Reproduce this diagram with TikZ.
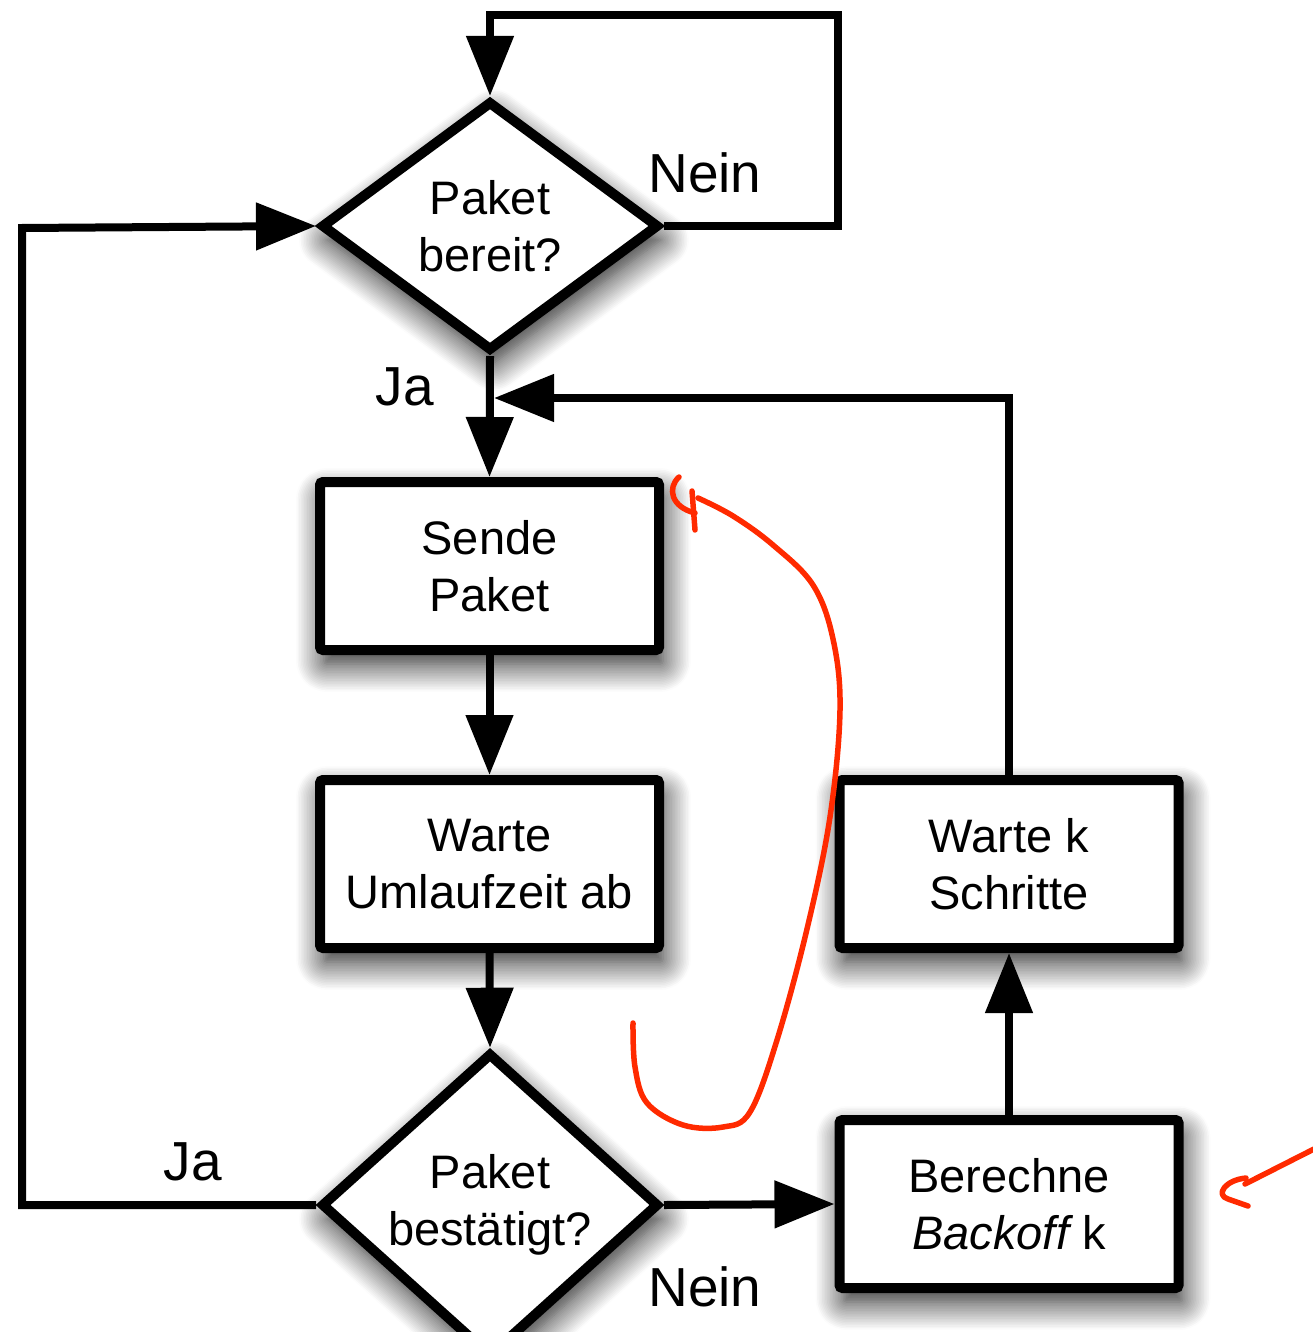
\documentclass[tikz,border=0pt]{standalone}
\usepackage{fontspec}
\setmainfont{Liberation Sans}
\usetikzlibrary{shapes.geometric,arrows.meta,shadows.blur}
\definecolor{pen}{RGB}{255,42,0}
\begin{document}
\begin{tikzpicture}[x=1pt,y=-1pt,
  every node/.style={font=\fontsize{47}{57}\selectfont},
  shade/.style={blur shadow={shadow xshift=4pt, shadow yshift=-14pt,
      shadow blur radius=28pt, shadow opacity=90, shadow blur steps=18}},
  stepbox/.style={draw, line width=10pt, fill=white, minimum width=339pt,
      minimum height=168pt, rounded corners=3pt, align=center, inner sep=0pt, shade},
  test/.style={diamond, draw, line width=10pt, fill=white, minimum width=338pt,
      minimum height=250pt, inner sep=0pt, align=center, shade},
  flow/.style={line width=8pt, -{Triangle[length=60pt,width=46pt]}},
  tag/.style={font=\fontsize{55}{66}\selectfont, anchor=base},
  ink/.style={draw=pen, line width=5.5pt, line cap=round, line join=round}
]
\useasboundingbox (0,0) rectangle (1312,1332);

% process steps and decisions
\node[test]    (ready) at (490,226)    {Paket\\bereit?};
\node[stepbox] (send)  at (489.5,566)  {Sende\\Paket};
\node[stepbox] (rtt)   at (489.5,864)  {Warte\\Umlaufzeit ab};
\node[test]    (ack)   at (490,1205)   {Paket\\bestätigt?};
\node[stepbox] (wait)  at (1009,864)   {Warte k\\Schritte};
\node[stepbox] (calc)  at (1009,1204)  {Berechne\\{\itshape Backoff} k};

% corner points of the loops
\coordinate (idle)  at (838,15);
\coordinate (back)  at (22,228);
\coordinate (merge) at (494,398);

% connectors
\draw[flow] (ready.east) -| (idle) -| (ready.north);
\draw[flow] (ack.west) -| (back) -- (ready.west);
\draw[flow] (ready.south) -- (send.north);
\draw[flow] (send.south) -- (rtt.north);
\draw[flow] (rtt.south) -- (ack.north);
\draw[flow] (ack.east) -- (calc.west);
\draw[flow] (calc.north) -- (wait.south);
\draw[flow] (wait.north) |- (merge);

% branch labels
\node[tag] (nein1) at (705,193)  {Nein};
\node[tag] (ja1)   at (405,405)  {Ja};
\node[tag] (ja2)   at (193,1180) {Ja};
\node[tag] (nein2) at (705,1306) {Nein};

% handwritten red marks
\draw[ink] plot[smooth, tension=0.6] coordinates {(633,1023) (635,1067) (647,1103)
  (683,1125) (723,1127) (750,1112) (777,1040) (807,929) (830,817) (840,710)
  (833,639) (813,585) (773,545) (733,516) (698,498)};
\draw[ink] (679,477) .. controls (667,488) and (671,507) .. (695,513);
\draw[ink] (692,491) -- (695,530);
\draw[ink] (1314,1149) -- (1245,1184);
\draw[ink] (1246,1178) .. controls (1225,1180) and (1215,1195) .. (1228,1199) -- (1248,1206);
\end{tikzpicture}
\end{document}
